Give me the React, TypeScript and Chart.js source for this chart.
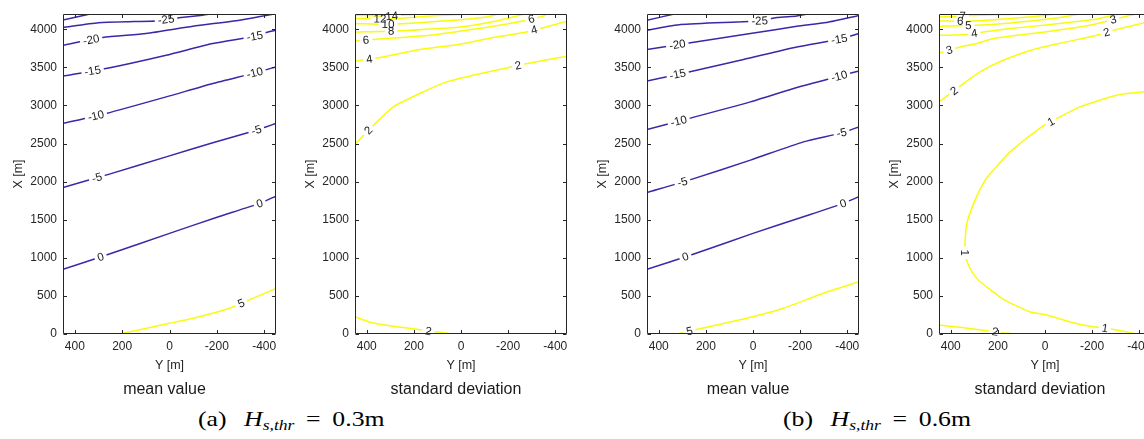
import React, { useEffect, useRef } from "react";
import { Chart, registerables } from "chart.js";

Chart.register(...registerables);

type Pt = [number, number]; // [Y (m), X (m)]

// ---------------- axes ----------------
const xTickValues = [400, 200, 0, -200, -400];
const xTickLabels = ["400", "200", "0", "-200", "-400"];
const yTickValues = [0, 500, 1000, 1500, 2000, 2500, 3000, 3500, 4000];
const yTickLabels = ["0", "500", "1000", "1500", "2000", "2500", "3000", "3500", "4000"];
const xRange = [-450, 450];
const yRange = [0, 4200];
const xAxisTitle = "Y [m]";
const yAxisTitle = "X [m]";
const panelTitles = ["mean value", "standard deviation", "mean value", "standard deviation"];
const subLetters = ["(a)", "(b)"];
const thresholds = ["0.3m", "0.6m"];

// ---------------- (a) mean value ----------------
const aMean_m30: Pt[] = [[450, 4120], [336, 4200]];
const aMean_m25: Pt[] = [[450, 4022], [300, 4085], [150, 4100], [60, 4108], [-40, 4150], [-140, 4185], [-175, 4200]];
const aMean_m20: Pt[] = [[450, 3790], [282, 3891], [99, 3944], [-99, 4039], [-296, 4118], [-430, 4193], [-449, 4200]];
const aMean_m15: Pt[] = [[450, 3384], [268, 3484], [14, 3659], [-183, 3812], [-360, 3908], [-409, 3957], [-450, 3987]];
const aMean_m10: Pt[] = [[450, 2763], [268, 2894], [14, 3112], [-183, 3288], [-360, 3427], [-450, 3506]];
const aMean_m5: Pt[] = [[450, 1924], [254, 2098], [14, 2325], [-183, 2509], [-367, 2675], [-450, 2763]];
const aMean_0: Pt[] = [[450, 848], [254, 1049], [0, 1321], [-198, 1530], [-381, 1714], [-450, 1810]];
const aMean_p5: Pt[] = [[212, 0], [0, 140], [-127, 227], [-254, 337], [-303, 402], [-450, 599]];

// ---------------- (a) standard deviation ----------------
const aStd_2u: Pt[] = [[450, 2492], [357, 2784], [287, 2981], [160, 3178], [61, 3309], [-52, 3397], [-194, 3492], [-293, 3558], [-450, 3646]];
const aStd_4: Pt[] = [[450, 3580], [343, 3629], [174, 3734], [4, 3803], [-137, 3891], [-279, 3965], [-450, 4105]];
const aStd_6: Pt[] = [[450, 3847], [357, 3869], [131, 3921], [-24, 3987], [-208, 4075], [-349, 4170], [-363, 4200]];
const aStd_8: Pt[] = [[450, 3965], [280, 3978], [4, 4030], [-151, 4109], [-250, 4184], [-270, 4200]];
const aStd_10: Pt[] = [[450, 4075], [300, 4065], [33, 4118], [-109, 4161], [-160, 4200]];
const aStd_12: Pt[] = [[450, 4140], [300, 4135], [145, 4170], [0, 4195], [-20, 4200]];
const aStd_14: Pt[] = [[450, 4184], [300, 4172], [200, 4195], [180, 4200]];
const aStd_2l: Pt[] = [[450, 227], [379, 148], [273, 96], [180, 60], [139, 35], [75, 18], [33, 0]];

// ---------------- (b) mean value ----------------
const bMean_m30: Pt[] = [[450, 4118], [335, 4200]];
const bMean_m25: Pt[] = [[450, 3987], [307, 4062], [68, 4096], [-28, 4109], [-101, 4153], [-186, 4175], [-230, 4200]];
const bMean_m20: Pt[] = [[450, 3734], [272, 3820], [11, 3943], [-186, 4039], [-312, 4088], [-450, 4180]];
const bMean_m15: Pt[] = [[450, 3322], [272, 3440], [40, 3603], [-186, 3768], [-366, 3869], [-450, 3943]];
const bMean_m10: Pt[] = [[450, 2685], [272, 2829], [11, 3047], [-186, 3235], [-366, 3384], [-450, 3453]];
const bMean_m5: Pt[] = [[450, 1858], [258, 2033], [11, 2282], [-214, 2522], [-376, 2640], [-450, 2719]];
const bMean_0: Pt[] = [[450, 848], [251, 1049], [0, 1321], [-214, 1539], [-383, 1714], [-450, 1801]];
const bMean_p5: Pt[] = [[321, 0], [236, 61], [110, 148], [0, 227], [-129, 337], [-298, 534], [-450, 686]];

// ---------------- (b) standard deviation ----------------
const bStd_1: Pt[] = [[-450, 3190], [-419, 3178], [-304, 3134], [-148, 2981], [-64, 2850], [14, 2719], [148, 2391], [219, 2151], [254, 2020], [297, 1757], [332, 1452], [339, 1233], [339, 1066], [325, 905], [290, 730], [240, 599], [177, 455], [64, 293], [-7, 249], [-120, 148], [-205, 96], [-304, 52], [-389, 0]];
const bStd_2u: Pt[] = [[450, 3047], [386, 3192], [360, 3255], [276, 3440], [177, 3593], [50, 3734], [-92, 3834], [-219, 3921], [-304, 3996], [-417, 4083], [-450, 4105]];
const bStd_3: Pt[] = [[450, 3689], [360, 3768], [290, 3812], [219, 3878], [35, 3951], [-148, 4030], [-233, 4083], [-346, 4170], [-389, 4200]];
const bStd_4: Pt[] = [[450, 3921], [330, 3930], [262, 3965], [148, 4009], [-35, 4066], [-205, 4127], [-290, 4184], [-320, 4200]];
const bStd_5: Pt[] = [[450, 4039], [297, 4052], [148, 4083], [-35, 4140], [-120, 4184], [-150, 4200]];
const bStd_6: Pt[] = [[450, 4109], [318, 4105], [148, 4140], [-7, 4184], [-50, 4200]];
const bStd_7: Pt[] = [[450, 4160], [350, 4175], [200, 4190], [100, 4200]];
const bStd_2l: Pt[] = [[450, 118], [360, 88], [247, 44], [212, 30], [180, 16], [127, 0]];

type Contour = { level: number; pts: Pt[]; at: Pt[] };

const panelA1: Contour[] = [
  { level: -30, pts: aMean_m30, at: [] },
  { level: -25, pts: aMean_m25, at: [[14, 4110]] },
  { level: -20, pts: aMean_m20, at: [[331, 3860]] },
  { level: -15, pts: aMean_m15, at: [[325, 3455], [-360, 3908]] },
  { level: -10, pts: aMean_m10, at: [[310, 2850], [-360, 3427]] },
  { level: -5, pts: aMean_m5, at: [[306, 2042], [-367, 2675]] },
  { level: 0, pts: aMean_0, at: [[289, 993], [-381, 1714]] },
  { level: 5, pts: aMean_p5, at: [[-303, 402]] },
];
const panelA2: Contour[] = [
  { level: 2, pts: aStd_2u, at: [[389, 2660], [-243, 3520]] },
  { level: 4, pts: aStd_4, at: [[389, 3603], [-311, 3990]] },
  { level: 6, pts: aStd_6, at: [[403, 3850], [-300, 4110]] },
  { level: 8, pts: aStd_8, at: [[297, 3975]] },
  { level: 10, pts: aStd_10, at: [[310, 4065]] },
  { level: 12, pts: aStd_12, at: [[344, 4135]] },
  { level: 14, pts: aStd_14, at: [[294, 4172]] },
  { level: 2, pts: aStd_2l, at: [[139, 35]] },
];
const panelB1: Contour[] = [
  { level: -30, pts: bMean_m30, at: [] },
  { level: -25, pts: bMean_m25, at: [[-28, 4109]] },
  { level: -20, pts: bMean_m20, at: [[321, 3790]] },
  { level: -15, pts: bMean_m15, at: [[318, 3384], [-366, 3869]] },
  { level: -10, pts: bMean_m10, at: [[314, 2777], [-366, 3384]] },
  { level: -5, pts: bMean_m5, at: [[300, 1997], [-376, 2640]] },
  { level: 0, pts: bMean_0, at: [[286, 1006], [-383, 1714]] },
  { level: 5, pts: bMean_p5, at: [[268, 17]] },
];
const panelB2: Contour[] = [
  { level: 1, pts: bStd_1, at: [[-28, 2771], [339, 1066], [-254, 75]] },
  { level: 2, pts: bStd_2u, at: [[386, 3192], [-262, 3957]] },
  { level: 3, pts: bStd_3, at: [[406, 3724], [-290, 4118]] },
  { level: 4, pts: bStd_4, at: [[300, 3942]] },
  { level: 5, pts: bStd_5, at: [[325, 4045]] },
  { level: 6, pts: bStd_6, at: [[360, 4090]] },
  { level: 7, pts: bStd_7, at: [[349, 4180]] },
  { level: 2, pts: bStd_2l, at: [[212, 28]] },
];
const panels = [panelA1, panelA2, panelB1, panelB2];

// ---------------- styling / layout ----------------
const BLUE = "rgb(62,38,168)";
const YELLOW = "rgb(249,251,14)";
const AXIS = "#262626";
const SANS = "'Liberation Sans', Arial, Helvetica, sans-serif";
const SERIF = "'Liberation Serif', 'Times New Roman', serif";
const LABEL_FONT = `11.5px ${SANS}`;
const PLOT_LEFT = [63, 355, 647, 939];
const PLOT_W = [213, 212, 212, 212];
const Y_AXIS_W = 53;
const X_AXIS_H = 40;
const PAD_TOP = 14;
const PAD_RIGHT = 12;
const PAD_BOTTOM = 8;
const CANVAS_H = 382;

function labelGeometry(chart: any, index: number) {
  const ds: any = chart.data.datasets[index];
  const spots: Pt[] = ds.labelSpots || [];
  if (!spots.length) return [];
  const meta = chart.getDatasetMeta(index);
  const pix = meta.data.map((e: any) => [e.x, e.y]);
  const xs = chart.scales.x;
  const ys = chart.scales.y;
  const ctx = chart.ctx;
  ctx.save();
  ctx.font = LABEL_FONT;
  const w = ctx.measureText(ds.labelText).width;
  ctx.restore();
  return spots.map(([Y, X]) => {
    const px = xs.getPixelForValue(Y);
    const py = ys.getPixelForValue(X);
    let best = Infinity;
    let qx = px;
    let qy = py;
    let ang = 0;
    for (let k = 0; k < pix.length - 1; k++) {
      const [ax, ay] = pix[k];
      const [bx, by] = pix[k + 1];
      const dx = bx - ax;
      const dy = by - ay;
      const L2 = dx * dx + dy * dy || 1;
      let t = ((px - ax) * dx + (py - ay) * dy) / L2;
      t = Math.max(0, Math.min(1, t));
      const cx = ax + t * dx;
      const cy = ay + t * dy;
      const d = (px - cx) * (px - cx) + (py - cy) * (py - cy);
      if (d < best) {
        best = d;
        qx = cx;
        qy = cy;
        ang = Math.atan2(dy, dx);
      }
    }
    if (ang > Math.PI / 2) ang -= Math.PI;
    if (ang < -Math.PI / 2) ang += Math.PI;
    return { x: qx, y: qy, a: ang, w: w + 6, h: 10, text: ds.labelText };
  });
}

const contourPlugin: any = {
  id: "contourLabels",
  beforeDatasetDraw(chart: any, args: any) {
    const items = labelGeometry(chart, args.index);
    chart.$clipSaved = chart.$clipSaved || {};
    chart.$clipSaved[args.index] = false;
    if (!items.length) return;
    const ctx = chart.ctx;
    ctx.save();
    ctx.beginPath();
    ctx.rect(0, 0, chart.width, chart.height);
    for (const it of items) {
      const c = Math.cos(it.a);
      const s = Math.sin(it.a);
      const hw = it.w / 2;
      const hh = it.h / 2;
      const corners = [[-hw, -hh], [hw, -hh], [hw, hh], [-hw, hh]].map(([u, v]) => [it.x + u * c - v * s, it.y + u * s + v * c]);
      ctx.moveTo(corners[0][0], corners[0][1]);
      for (let k = 1; k < 4; k++) ctx.lineTo(corners[k][0], corners[k][1]);
      ctx.closePath();
    }
    ctx.clip("evenodd");
    chart.$clipSaved[args.index] = true;
  },
  afterDatasetDraw(chart: any, args: any) {
    if (chart.$clipSaved && chart.$clipSaved[args.index]) {
      chart.ctx.restore();
      chart.$clipSaved[args.index] = false;
    }
  },
  afterDatasetsDraw(chart: any) {
    const ctx = chart.ctx;
    chart.data.datasets.forEach((_: any, i: number) => {
      const items = labelGeometry(chart, i);
      for (const it of items) {
        ctx.save();
        ctx.translate(it.x, it.y);
        ctx.rotate(it.a);
        ctx.font = LABEL_FONT;
        ctx.fillStyle = "#1a1a1a";
        ctx.textAlign = "center";
        ctx.textBaseline = "middle";
        ctx.fillText(it.text, 0, 0.5);
        ctx.restore();
      }
    });
  },
  afterDraw(chart: any) {
    const ctx = chart.ctx;
    const { left, right, top, bottom } = chart.chartArea;
    const xs = chart.scales.x;
    const ys = chart.scales.y;
    const L = Math.round(left) + 0.5;
    const R = Math.round(right) - 0.5;
    const T = Math.round(top) + 0.5;
    const B = Math.round(bottom) - 0.5;
    const tl = 3.5;
    ctx.save();
    ctx.strokeStyle = AXIS;
    ctx.lineWidth = 1;
    ctx.beginPath();
    ctx.rect(L, T, R - L, B - T);
    for (const v of xTickValues) {
      const p = Math.round(xs.getPixelForValue(v)) + 0.5;
      ctx.moveTo(p, B);
      ctx.lineTo(p, B - tl);
      ctx.moveTo(p, T);
      ctx.lineTo(p, T + tl);
    }
    for (const v of yTickValues) {
      const p = Math.round(ys.getPixelForValue(v)) + 0.5;
      ctx.moveTo(L, p);
      ctx.lineTo(L + tl, p);
      ctx.moveTo(R, p);
      ctx.lineTo(R - tl, p);
    }
    ctx.stroke();
    ctx.restore();
  },
};

function ContourPanel({ contours, plotLeft, plotWidth }: { contours: Contour[]; plotLeft: number; plotWidth: number }) {
  const ref = useRef<HTMLCanvasElement>(null);
  const cw = Y_AXIS_W + plotWidth + PAD_RIGHT;
  useEffect(() => {
    const tickFont = { family: SANS, size: 12 };
    const chart = new Chart(ref.current as HTMLCanvasElement, {
      type: "scatter",
      data: {
        datasets: contours.map((c) => ({
          data: c.pts.map(([Y, X]) => ({ x: Y, y: X })),
          showLine: true,
          borderColor: c.level > 0 ? YELLOW : BLUE,
          borderWidth: 1.5,
          pointRadius: 0,
          pointHoverRadius: 0,
          fill: false,
          tension: 0.2,
          borderJoinStyle: "round",
          labelSpots: c.at,
          labelText: String(c.level),
        })) as any,
      },
      options: {
        animation: false,
        responsive: false,
        maintainAspectRatio: false,
        events: [],
        layout: { padding: { left: 0, right: PAD_RIGHT, top: PAD_TOP, bottom: PAD_BOTTOM } },
        plugins: { legend: { display: false }, tooltip: { enabled: false } },
        scales: {
          x: {
            type: "linear",
            position: "bottom",
            min: xRange[0],
            max: xRange[1],
            reverse: true,
            grid: { display: false, drawTicks: false },
            border: { display: false },
            afterBuildTicks: (s: any) => {
              s.ticks = xTickValues.map((v) => ({ value: v }));
            },
            afterFit: (s: any) => {
              s.height = X_AXIS_H;
            },
            ticks: {
              autoSkip: false,
              maxRotation: 0,
              minRotation: 0,
              padding: 5,
              color: AXIS,
              font: tickFont,
              callback: (v: any) => xTickLabels[xTickValues.indexOf(Number(v))],
            },
            title: { display: true, text: xAxisTitle, color: AXIS, font: { family: SANS, size: 12.5 }, padding: { top: 0, bottom: 1 } },
          },
          y: {
            type: "linear",
            position: "left",
            min: yRange[0],
            max: yRange[1],
            grid: { display: false, drawTicks: false },
            border: { display: false },
            afterBuildTicks: (s: any) => {
              s.ticks = yTickValues.map((v) => ({ value: v }));
            },
            afterFit: (s: any) => {
              s.width = Y_AXIS_W;
            },
            ticks: {
              autoSkip: false,
              padding: 6,
              color: AXIS,
              font: tickFont,
              callback: (v: any) => yTickLabels[yTickValues.indexOf(Number(v))],
            },
            title: { display: true, text: yAxisTitle, color: AXIS, font: { family: SANS, size: 12.5 }, padding: { top: 1.5, bottom: 0 } },
          },
        },
      } as any,
      plugins: [contourPlugin],
    });
    return () => chart.destroy();
  }, []);
  return (
    <canvas
      ref={ref}
      width={cw}
      height={CANVAS_H}
      style={{ position: "absolute", left: plotLeft - Y_AXIS_W, top: 0, width: cw, height: CANVAS_H, display: "block" }}
    />
  );
}

export default function App() {
  return (
    <div style={{ position: "absolute", left: 0, top: 0, width: 1144, height: 439, overflow: "hidden", background: "#fff" }}>
      {panels.map((p, i) => (
        <ContourPanel key={i} contours={p} plotLeft={PLOT_LEFT[i]} plotWidth={PLOT_W[i]} />
      ))}
      {panelTitles.map((t, i) => (
        <div
          key={"t" + i}
          style={{
            position: "absolute",
            left: PLOT_LEFT[i] - 5,
            width: PLOT_W[i],
            top: 380,
            textAlign: "center",
            font: `16px/18px ${SANS}`,
            color: "#1a1a1a",
            whiteSpace: "nowrap",
          }}
        >
          {t}
        </div>
      ))}
      {subLetters.map((s, i) => (
        <div
          key={"c" + i}
          style={{
            position: "absolute",
            left: i === 0 ? 198 : 783,
            top: 406,
            font: `22px/26px ${SERIF}`,
            color: "#000",
            whiteSpace: "nowrap",
            transform: "scaleX(1.17)",
            transformOrigin: "0 0",
          }}
        >
          <span>{s}</span>
          <span style={{ marginLeft: 15 }}>
            <i>H</i>
            <span style={{ fontSize: 15, fontStyle: "italic", position: "relative", top: 4 }}>s,thr</span>
            <span style={{ margin: "0 10px" }}>=</span>
            {thresholds[i]}
          </span>
        </div>
      ))}
    </div>
  );
}
